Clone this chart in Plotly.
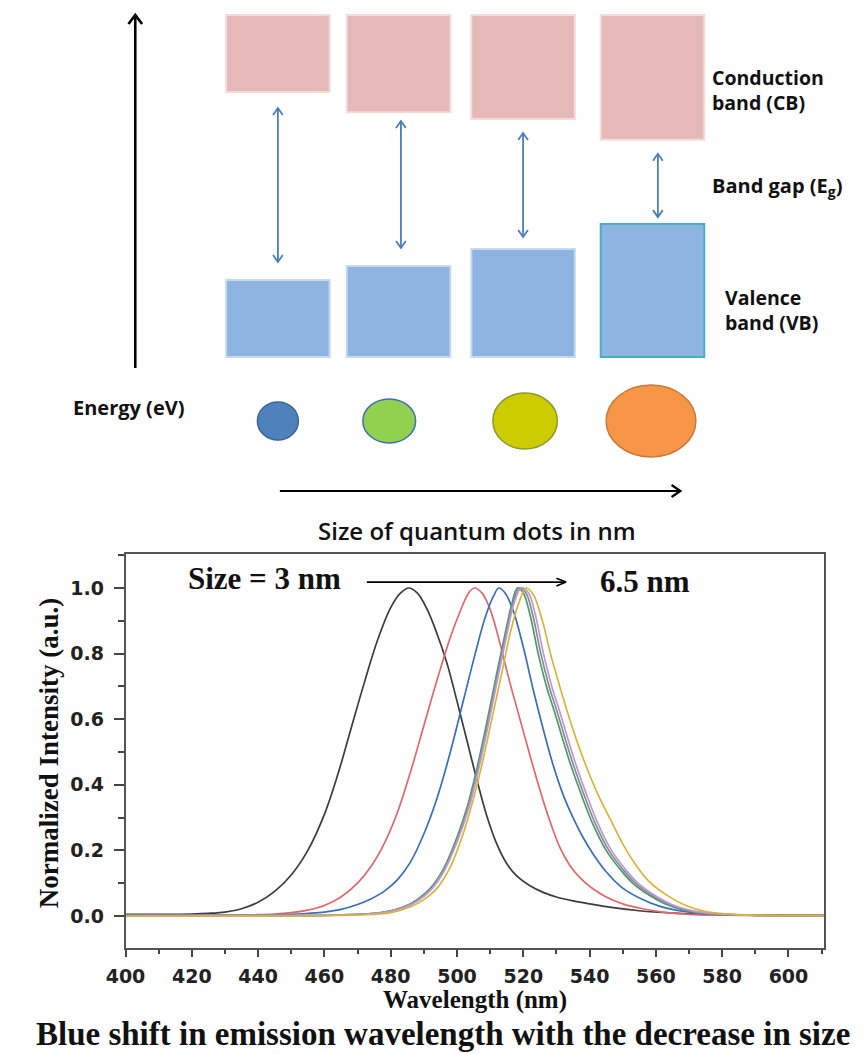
import plotly.graph_objects as go

# ======================= DATA =======================
# --- Top schematic: band edges (energy, arbitrary units; 0 = VB floor, 10 = CB ceiling)
cb_bottom = [7.75, 7.16, 6.96, 6.35]
vb_top = [2.25, 2.66, 3.16, 3.89]
band_ceiling = 10.0
band_floor = 0.0
gap_arrow_top = [7.28, 6.90, 6.55, 5.94]
gap_arrow_bottom = [2.78, 3.19, 3.51, 4.09]

# --- Emission spectra (wavelength nm, normalized intensity)
black_x = [400, 410, 420, 425, 430, 435, 440, 445, 450, 455, 460, 464, 468, 472, 476, 480, 483, 485.5, 488,
           491, 494, 497, 500, 503, 506, 509, 512, 515, 518, 522, 526, 530, 535, 540, 546, 555, 565, 580, 611]
black_y = [0.005, 0.005, 0.006, 0.008, 0.012, 0.022, 0.042, 0.075, 0.125, 0.2, 0.31, 0.43, 0.57, 0.71, 0.84,
           0.94, 0.985, 1.0, 0.985, 0.935, 0.86, 0.77, 0.655, 0.535, 0.415, 0.305, 0.22, 0.16, 0.122, 0.092,
           0.072, 0.058, 0.046, 0.037, 0.027, 0.016, 0.009, 0.004, 0.002]

red_x = [400, 430, 440, 445, 450, 455, 460, 465, 470, 474, 478, 482, 486, 490, 494, 498, 501, 503.5, 505.2,
         507.5, 510, 513, 516, 519, 522, 525, 528, 531, 534, 537, 541, 545, 550, 556, 562, 570, 585, 611]
red_y = [0.002, 0.002, 0.004, 0.006, 0.01, 0.018, 0.032, 0.058, 0.1, 0.15, 0.22, 0.315, 0.44, 0.58, 0.72, 0.85,
         0.93, 0.985, 1.0, 0.985, 0.935, 0.83, 0.71, 0.6, 0.49, 0.385, 0.29, 0.21, 0.155, 0.118, 0.083, 0.058,
         0.037, 0.022, 0.012, 0.005, 0.002, 0.001]

blue_x = [400, 440, 450, 455, 460, 465, 470, 474, 478, 482, 486, 490, 494, 498, 502, 505.5, 508.5, 511, 512.6,
          514.5, 517, 520, 523, 526, 529, 532, 535, 538, 541, 545, 550, 556, 561, 566, 575, 590, 611]
blue_y = [0.002, 0.003, 0.005, 0.008, 0.012, 0.02, 0.035, 0.052, 0.075, 0.11, 0.165, 0.25, 0.36, 0.5, 0.66,
          0.8, 0.91, 0.975, 1.0, 0.985, 0.93, 0.82, 0.69, 0.57, 0.46, 0.37, 0.3, 0.24, 0.19, 0.135, 0.085, 0.05,
          0.03, 0.018, 0.007, 0.002, 0.001]

green_x = [400, 460, 470, 476, 480, 484, 488, 492, 496, 500, 503, 506, 509, 512, 514.5, 516.5, 518.2, 520, 522,
           524.5, 527, 529.5, 532, 534.5, 537.5, 541, 545, 549, 553, 558, 563, 568.5, 575, 590, 611]
green_y = [0.001, 0.002, 0.005, 0.009, 0.016, 0.028, 0.05, 0.085, 0.145, 0.24, 0.33, 0.45, 0.59, 0.74, 0.86,
           0.95, 1.0, 0.985, 0.92, 0.8, 0.7, 0.62, 0.535, 0.455, 0.37, 0.28, 0.2, 0.145, 0.1, 0.063, 0.036,
           0.018, 0.008, 0.002, 0.001]

gray_x = [400, 460, 470, 476, 480, 484, 488, 492, 496, 500, 503.3, 506.3, 509.3, 512.3, 514.8, 516.8, 518.8,
          520.8, 522.8, 525.3, 527.8, 530.3, 532.8, 535.3, 538.3, 541.8, 545.8, 549.8, 553.8, 558.8, 563.8,
          569.3, 575.8, 590, 611]
gray_y = [0.001, 0.002, 0.005, 0.009, 0.016, 0.027, 0.048, 0.082, 0.14, 0.232, 0.33, 0.45, 0.59,
          0.74, 0.86, 0.95, 1.0, 0.985, 0.92, 0.8, 0.7, 0.62, 0.535, 0.455, 0.37, 0.28, 0.2,
          0.145, 0.1, 0.063, 0.036, 0.018, 0.008, 0.002, 0.001]

purple_x = [400, 460, 470, 476, 480, 484, 488, 492, 496, 500, 503.6, 506.6, 509.6, 512.6, 515.1, 517.1, 519.4,
            521.6, 523.6, 526.1, 528.6, 531.1, 533.6, 536.1, 539.1, 542.6, 546.6, 550.6, 554.6, 559.6, 564.6,
            570.1, 576.6, 590, 611]
purple_y = [0.001, 0.002, 0.004, 0.008, 0.014, 0.025, 0.045, 0.078, 0.135, 0.225, 0.33, 0.45, 0.59, 0.74,
            0.86, 0.95, 1.0, 0.985, 0.92, 0.8, 0.7, 0.62, 0.535, 0.455, 0.37, 0.28, 0.2, 0.145, 0.1, 0.063,
            0.036, 0.018, 0.008, 0.002, 0.001]

yellow_x = [400, 470, 480, 486, 490, 494, 498, 501.5, 504.5, 507.5, 510.5, 513.5, 516, 518.5, 520.9, 523, 525.5,
            528.2, 531, 534, 537, 540, 543, 546.5, 550, 554, 558, 563.5, 569, 575.4, 585, 611]
yellow_y = [0.0, 0.003, 0.01, 0.028, 0.05, 0.085, 0.15, 0.24, 0.34, 0.46, 0.6, 0.74, 0.86, 0.95, 1.0, 0.98,
            0.91, 0.8, 0.7, 0.6, 0.51, 0.43, 0.36, 0.29, 0.22, 0.155, 0.105, 0.062, 0.032, 0.013, 0.004, 0.001]

x_tick_vals = [400, 420, 440, 460, 480, 500, 520, 540, 560, 580, 600]
y_tick_vals = [0.0, 0.2, 0.4, 0.6, 0.8, 1.0]
y_tick_text = ["0.0", "0.2", "0.4", "0.6", "0.8", "1.0"]

# ======================= LAYOUT / STYLE =======================
W, H = 864, 1054
col_center = [0.0, 0.965, 1.961, 2.996]      # schematic column centres (x2 units)
box_half = 0.414
arrow_x = [0.0, 0.984, 1.961, 3.039]
dot_cx = [0.0, 0.8906, 1.977, 2.984]
dot_rx = [0.164, 0.211, 0.258, 0.359]
dot_ry = [0.556, 0.643, 0.819, 1.053]
dot_cy = -1.871
dot_fill = ["#4f81bd", "#92d050", "#cccc00", "#f79646"]
dot_line = ["#3a6594", "#3e70b4", "#8c9a2c", "#c8783a"]

spec = [
    (black_x, black_y, "#3c3c3c"),
    (red_x, red_y, "#e2676b"),
    (blue_x, blue_y, "#3a6fb6"),
    (green_x, green_y, "#4f9a68"),
    (gray_x, gray_y, "#8a8a96"),
    (purple_x, purple_y, "#b89ad8"),
    (yellow_x, yellow_y, "#d8b53a"),
]


def px(x):
    return x / W


def py(y):
    return 1 - y / H


fig = go.Figure()

for xs, ys, c in spec:
    fig.add_trace(go.Scatter(x=xs, y=ys, mode="lines", line=dict(color=c, width=1.7, shape="spline",
                                                                   smoothing=1.0),
                             xaxis="x", yaxis="y", hoverinfo="skip"))

# ---- schematic shapes
shapes = []
for i in range(4):
    x0, x1 = col_center[i] - box_half, col_center[i] + box_half
    shapes.append(dict(type="rect", xref="x2", yref="y2", x0=x0, x1=x1, y0=cb_bottom[i], y1=band_ceiling,
                       fillcolor="#e6b8b7", line=dict(color="#f2dcdb", width=2), layer="below"))
    shapes.append(dict(type="rect", xref="x2", yref="y2", x0=x0, x1=x1, y0=band_floor, y1=vb_top[i],
                       fillcolor="#8eb4e2",
                       line=dict(color="#4bacc6" if i == 3 else "#c6d9f1", width=2), layer="below"))
    shapes.append(dict(type="circle", xref="x2", yref="y2",
                       x0=dot_cx[i] - dot_rx[i], x1=dot_cx[i] + dot_rx[i],
                       y0=dot_cy - dot_ry[i], y1=dot_cy + dot_ry[i],
                       fillcolor=dot_fill[i], line=dict(color=dot_line[i], width=1.5)))

# unit conversions for arrowhead sizes in the schematic axes
UX = 128.0   # px per x2 unit
UY = 34.2    # px per y2 unit


def chevron_up(x, y, hw, hl):
    return [x - hw / UX, x, x + hw / UX, None], [y - hl / UY, y, y - hl / UY, None]


def chevron_down(x, y, hw, hl):
    return [x - hw / UX, x, x + hw / UX, None], [y + hl / UY, y, y + hl / UY, None]


# blue double-headed band-gap arrows
bx, by = [], []
for i in range(4):
    bx += [arrow_x[i], arrow_x[i], None]
    by += [gap_arrow_top[i], gap_arrow_bottom[i], None]
    a, b = chevron_up(arrow_x[i], gap_arrow_top[i], 5, 7)
    bx += a; by += b
    a, b = chevron_down(arrow_x[i], gap_arrow_bottom[i], 5, 7)
    bx += a; by += b
fig.add_trace(go.Scatter(x=bx, y=by, mode="lines", line=dict(color="#4a7ebb", width=1.8),
                         xaxis="x2", yaxis="y2", hoverinfo="skip"))

# black energy arrow (vertical)
ex = -1.1406
vx = [ex, ex, None]
vy = [-0.32, 10.0, None]
a, b = chevron_up(ex, 10.0, 7, 9)
vx += a; vy += b
fig.add_trace(go.Scatter(x=vx, y=vy, mode="lines", line=dict(color="black", width=2.6),
                         xaxis="x2", yaxis="y2", hoverinfo="skip"))

# black size arrow (horizontal)
hy = -3.918
hx0, hx1 = 0.0156, 3.219
hxs = [hx0, hx1, None, hx1 - 9 / UX, hx1, hx1 - 9 / UX]
hys = [hy, hy, None, hy + 6 / UY, hy, hy - 6 / UY]
fig.add_trace(go.Scatter(x=hxs, y=hys, mode="lines", line=dict(color="black", width=2.2),
                         xaxis="x2", yaxis="y2", hoverinfo="skip"))

# size arrow inside the spectrum plot
fig.add_trace(go.Scatter(x=[472.8, 532.9, None, 530.0, 532.9, 530.0], y=[1.018, 1.018, None, 1.03, 1.018, 1.006],
                         mode="lines", line=dict(color="black", width=1.6), xaxis="x", yaxis="y",
                         hoverinfo="skip"))

sans = "Open Sans"
serif = "Liberation Serif"
ann = []


def txt(t, x, y, size, family, xanchor="left", weight="bold", angle=0, color="#111", align="left"):
    ann.append(dict(text=t, x=px(x), y=py(y), xref="paper", yref="paper", xanchor=xanchor, yanchor="middle",
                    showarrow=False, textangle=angle, align=align,
                    font=dict(family=family, size=size, color=color, weight=weight)))


txt("Conduction<br>band (CB)", 706, 90, 19.5, sans)
txt("Band gap (E<sub>g</sub>)", 706, 186, 20, sans)
txt("Valence<br>band (VB)", 720, 310, 19.5, sans)
txt("Energy (eV)", 52, 407, 20, sans)
txt("Size of quantum dots in nm", 468, 530, 24, sans, xanchor="center", weight=600, align="center")
txt("Size = 3 nm", 250, 578, 31, serif, xanchor="center", align="center")
txt("6.5 nm", 640, 581, 31, serif, xanchor="center", align="center")
txt("Normalized Intensity (a.u.)", 30, 753, 27, serif, xanchor="center", angle=-90, align="center")
txt("Wavelength (nm)", 466, 1000, 25, serif, xanchor="center", align="center")
txt("Blue shift in emission wavelength with the decrease in size", 433, 1034, 33, serif, xanchor="center",
    align="center")

fig.update_layout(
    width=W, height=H, margin=dict(l=0, r=0, t=0, b=0),
    paper_bgcolor="white", plot_bgcolor="white", showlegend=False,
    shapes=shapes, annotations=ann,
    xaxis=dict(domain=[108 / W, 823 / W], range=[400, 610.7], anchor="y",
               tickmode="array", tickvals=x_tick_vals, ticks="outside", ticklen=7, tickwidth=1.5,
               tickcolor="#444", minor=dict(dtick=10, ticks="outside", ticklen=4, tickwidth=1.5, tickcolor="#444"),
               showline=True, linecolor="#555", linewidth=1.5, mirror=True, showgrid=False, zeroline=False,
               ticklabelstandoff=3,
               tickfont=dict(family="DejaVu Sans", size=19, color="#222", weight="bold")),
    yaxis=dict(domain=[1 - 948 / H, 1 - 554 / H], range=[-0.0976, 1.1037], anchor="x",
               tickmode="array", tickvals=y_tick_vals, ticktext=y_tick_text, ticks="outside", ticklen=10,
               tickwidth=1.5, tickcolor="#444", ticklabelstandoff=6,
               minor=dict(dtick=0.1, tick0=0, ticks="outside", ticklen=6, tickwidth=1.5, tickcolor="#444"),
               showline=True, linecolor="#555", linewidth=1.5, mirror=True, showgrid=False, zeroline=False,
               tickfont=dict(family="DejaVu Sans", size=19, color="#222", weight="bold")),
    xaxis2=dict(domain=[0, 1], range=[-264 / 128, 600 / 128], anchor="y2", visible=False),
    yaxis2=dict(domain=[1 - 540 / H, 1], range=[-(540 - 357) / 34.2, 357 / 34.2], anchor="x2", visible=False),
)

fig.write_html("out.html", config={"displayModeBar": False}, post_script="document.body.style.margin='0px';")
